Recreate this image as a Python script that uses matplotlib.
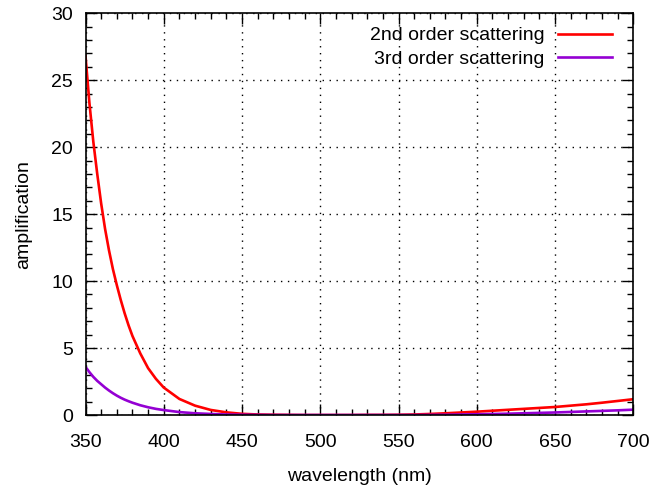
import numpy as np
import matplotlib.pyplot as plt
from matplotlib.ticker import MultipleLocator

plt.rcParams['font.family'] = ['Liberation Sans', 'DejaVu Sans']

# wavelength (nm) and amplification values
wavelength = [350, 352.5, 355, 357.5, 360, 362.5, 365, 367.5, 370, 372.5,
              375, 377.5, 380, 385, 390, 395, 400,
              410, 420, 430, 440, 450, 460, 470, 480, 490, 500, 510, 520,
              530, 540, 550, 560, 570, 580, 590, 600, 610, 620, 630, 640,
              650, 660, 670, 680, 690, 700]
second_order = [26.8, 23.3, 20.4, 18.0, 15.8, 13.9, 12.3, 10.9, 9.7, 8.6,
                7.6, 6.7, 5.9, 4.6, 3.5, 2.7, 2.05,
                1.2, 0.7, 0.38, 0.2, 0.09, 0.04, 0.02, 0.01, 0.0, 0.0, 0.0,
                0.0, 0.01, 0.01, 0.02, 0.04, 0.08, 0.13, 0.19, 0.25, 0.32,
                0.39, 0.46, 0.53, 0.6, 0.7, 0.8, 0.92, 1.05, 1.18]
third_order = [3.6, 3.2, 2.85, 2.55, 2.3, 2.05, 1.83, 1.63, 1.45, 1.29,
               1.15, 1.03, 0.92, 0.73, 0.58, 0.46, 0.37,
               0.22, 0.13, 0.08, 0.04, 0.02, 0.01, 0.0, 0.0, 0.0, 0.0, 0.0,
               0.0, 0.0, 0.0, 0.0, 0.0, 0.01, 0.02, 0.04, 0.06, 0.08, 0.1,
               0.13, 0.16, 0.19, 0.23, 0.27, 0.31, 0.35, 0.4]

fig = plt.figure(figsize=(6.68, 4.9), dpi=100)
ax = fig.add_axes([0.128, 0.153, 0.82, 0.82])

ax.plot(wavelength, second_order, color='#ff0000', lw=1.9,
        label='2nd order scattering')
ax.plot(wavelength, third_order, color='#9400d3', lw=1.9,
        label='3rd order scattering')

ax.set_xlim(350, 700)
ax.set_ylim(0, 30)
ax.xaxis.set_major_locator(MultipleLocator(50))
ax.xaxis.set_minor_locator(MultipleLocator(10))
ax.yaxis.set_major_locator(MultipleLocator(5))
ax.yaxis.set_minor_locator(MultipleLocator(1))
ax.tick_params(which='both', direction='in', top=True, right=True,
               labelsize=14)
ax.tick_params(axis='x', pad=14)
ax.tick_params(axis='y', pad=9)
ax.tick_params(which='major', length=8, width=1)
ax.tick_params(which='minor', length=4, width=1)
ax.grid(True, which='major', color='black', linestyle=(0, (1, 4)), lw=1)

for s in ax.spines.values():
    s.set_linewidth(1.2)

ax.set_xlabel('wavelength (nm)', fontsize=14, labelpad=12)
ax.set_ylabel('amplification', fontsize=14, labelpad=14)

ax.legend(loc='upper right', bbox_to_anchor=(0.969, 0.976), frameon=False,
          markerfirst=False, fontsize=14, handlelength=2.8,
          labelspacing=0.3, borderaxespad=0, handletextpad=0.7,
          borderpad=0.2)

fig.savefig('out.png')
